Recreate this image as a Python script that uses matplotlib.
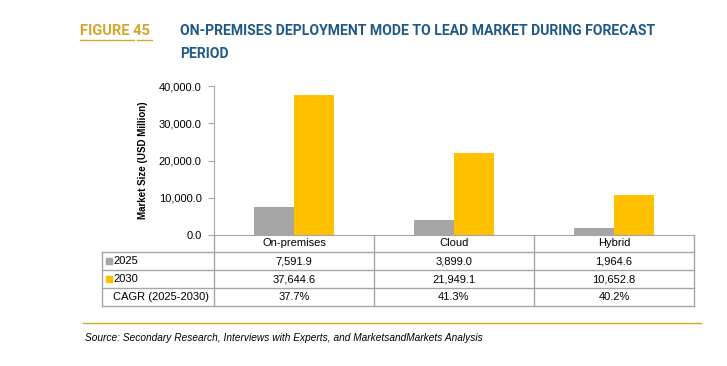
import matplotlib
matplotlib.use("Agg")
import matplotlib.pyplot as plt
from matplotlib.lines import Line2D
from matplotlib.patches import Rectangle

### data
modes = ["On-premises", "Cloud", "Hybrid"]
v2025 = [7591.9, 3899.0, 1964.6]
v2030 = [37644.6, 21949.1, 10652.8]
cagr = ["37.7%", "41.3%", "40.2%"]
yticks = [0, 10000, 20000, 30000, 40000]

### style
W, H = 727, 366
gray = "#A5A5A5"
gold = "#FFC000"
line_c = "#A6A6A6"
title_c = "#1F5A86"
fig_c = "#D6A62A"
base = ["Liberation Sans", "DejaVu Sans"]
narrow = ["Roboto", "Liberation Sans", "DejaVu Sans"]
plt.rcParams["font.family"] = base

def fx(px):
    return px / W

def fy(py):
    return 1 - py / H

fig = plt.figure(figsize=(W / 100, H / 100), dpi=100)

### header
fig.text(fx(80), fy(31), "FIGURE 45", color=fig_c, fontsize=10.5, fontweight="bold",
         family=narrow, va="center", ha="left")
fig.add_artist(Line2D([fx(80), fx(134)], [fy(40), fy(40)], color=fig_c, lw=1))
fig.add_artist(Line2D([fx(137), fx(152)], [fy(40), fy(40)], color=fig_c, lw=1))
fig.text(fx(180), fy(31), "ON-PREMISES DEPLOYMENT MODE TO LEAD MARKET DURING FORECAST",
         color=title_c, fontsize=10.1, fontweight="bold", family=narrow, va="center")
fig.text(fx(180), fy(54), "PERIOD", color=title_c, fontsize=10.1, fontweight="bold",
         family=narrow, va="center")

### chart
x0, x1, y0, y1 = 214, 694, 235, 86
ax = fig.add_axes([fx(x0), fy(y0), fx(x1) - fx(x0), fy(y1) - fy(y0)])
pos = list(range(len(modes)))
ax.bar([p - 0.125 for p in pos], v2025, width=0.25, color=gray)
ax.bar([p + 0.125 for p in pos], v2030, width=0.25, color=gold)
ax.set_xlim(-0.5, len(modes) - 0.5)
ax.set_ylim(0, 40000)
ax.set_yticks(yticks)
ax.set_yticklabels([f"{t:,.1f}" for t in yticks], fontsize=8)
ax.set_xticks([])
for s in ["top", "right"]:
    ax.spines[s].set_visible(False)
ax.spines["left"].set_color(line_c)
ax.spines["bottom"].set_color(line_c)
ax.tick_params(axis="y", length=4, color=line_c, pad=5)
ax.patch.set_alpha(0)
ax.set_ylabel("Market Size (USD Million)", fontsize=7, fontweight="bold", labelpad=8)

### table
rows = [235, 252, 270, 288, 306]
left = 102
colw = (x1 - x0) / len(modes)

def hline(xa, xb, y):
    fig.add_artist(Line2D([fx(xa), fx(xb)], [fy(y), fy(y)], color=line_c, lw=1))

def vline(x, ya, yb):
    fig.add_artist(Line2D([fx(x), fx(x)], [fy(ya), fy(yb)], color=line_c, lw=1))

for r in rows[1:]:
    hline(left, x1, r)
vline(left, rows[1], rows[-1])
for i in range(len(modes) + 1):
    vline(x0 + i * colw, rows[0], rows[-1])

def mid(i):
    return (rows[i] + rows[i + 1]) / 2

for i, m in enumerate(modes):
    cx = x0 + (i + 0.5) * colw
    fig.text(fx(cx), fy(mid(0)), m, fontsize=8, ha="center", va="center")
    fig.text(fx(cx), fy(mid(1)), f"{v2025[i]:,.1f}", fontsize=8, ha="center", va="center")
    fig.text(fx(cx), fy(mid(2)), f"{v2030[i]:,.1f}", fontsize=8, ha="center", va="center")
    fig.text(fx(cx), fy(mid(3)), cagr[i], fontsize=8, ha="center", va="center")

for i, (lab, c) in enumerate([("2025", gray), ("2030", gold)]):
    yc = mid(i + 1)
    fig.add_artist(Rectangle((fx(106), fy(yc + 3)), fx(6), fy(0) - fy(6),
                             color=c, transform=fig.transFigure))
    fig.text(fx(113), fy(yc + 0.5), lab, fontsize=8, va="center")
fig.text(fx(113), fy(mid(3)), "CAGR (2025-2030)", fontsize=8, va="center")

### source
fig.add_artist(Line2D([fx(83), fx(701)], [fy(323), fy(323)], color=fig_c, lw=1))
fig.text(fx(85), fy(338), "Source: Secondary Research, Interviews with Experts, and MarketsandMarkets Analysis",
         fontsize=7.3, style="italic", va="center")

fig.savefig("out.png", dpi=100)
